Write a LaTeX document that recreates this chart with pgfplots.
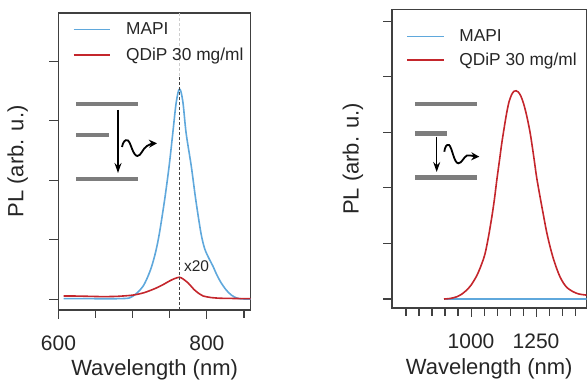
\documentclass[border=0pt]{standalone}
\usepackage{pgfplots}
\pgfplotsset{compat=1.18}
\usetikzlibrary{arrows.meta}
\usepackage{fontspec}
\setmainfont{Liberation Sans}
\definecolor{mblue}{RGB}{95,168,220}
\definecolor{qred}{RGB}{196,38,44}
\definecolor{axgray}{RGB}{64,64,64}
\definecolor{bargray}{RGB}{125,125,125}
\definecolor{lightdash}{RGB}{205,205,205}
\pgfplotsset{
  mystyle/.style={
    scale only axis,
    axis line style={axgray, line width=1.1pt},
    every tick/.style={axgray, line width=1.1pt},
    tick align=outside,
    major tick length=9pt, minor tick length=8pt,
    xtick pos=bottom, ytick pos=left,
    yticklabels={},
    /pgf/number format/assume math mode=true,
    /pgf/number format/1000 sep={},
    ticklabel style={font=\fontsize{21}{24}\selectfont, text=black!85},
    xticklabel style={yshift=-13pt},
    label style={font=\fontsize{22}{26}\selectfont, text=black!85},
    legend style={draw=none, fill=none, font=\fontsize{17.3}{20}\selectfont, text=black!85, inner sep=0pt,
       /tikz/every odd column/.append style={column sep=13pt}},
    legend cell align=left,
    legend image code/.code={\draw[##1, line width=1.6pt] (0pt,0pt) -- (36.6pt,0pt);},
  }
}
\begin{document}
\begin{tikzpicture}
% ---------------- left panel ----------------
\begin{axis}[mystyle,
  at={(58.5pt,70pt)}, anchor=south west,
  width=192.2pt, height=297pt,
  xmin=600, xmax=859, ymin=-0.18, ymax=4.81,
  xtick={600,800}, minor xtick={650,700,750,850},
  ytick={0,1,2,3,4},
  xlabel={Wavelength (nm)}, ylabel={PL (arb. u.)},
  xlabel style={at={(axis description cs:0.5,-0.2)}, anchor=center},
  ylabel style={at={(axis description cs:-0.2124,0.5)}, anchor=center},
  legend style={at={(axis description cs:0.074,0.975)}, anchor=north west, row sep=8pt},
]
\addplot[mblue, line width=1.6pt, smooth] coordinates {
(607,0.01) (640,0.01) (680,0.01) (695,0.02) (700,0.05) (707,0.12) (714,0.22)
(720,0.37) (725.5,0.55) (731,0.8) (736,1.11) (743,1.67) (749,2.23) (754,2.79)
(758,3.25) (761,3.47) (763,3.53) (765,3.49) (768,3.28) (772,2.79) (779,2.23)
(785,1.67) (792,1.11) (797,0.85) (803,0.68) (808,0.56) (813,0.42) (819,0.28)
(826,0.156) (833,0.07) (841,0.017) (850,0.005) (859,0.005)
};
\addlegendentry{MAPI}
\addplot[qred, line width=1.6pt, smooth] coordinates {
(607,0.055) (620,0.055) (640,0.05) (660,0.045) (680,0.05) (700,0.07) (715,0.11)
(730,0.18) (740,0.24) (750,0.31) (757,0.35) (763,0.37) (768,0.34) (775,0.27)
(783,0.16) (790,0.09) (795,0.055) (805,0.03) (817,0.018) (830,0.015) (845,0.012) (859,0.012)
};
\addlegendentry{QDiP 30 mg/ml}
\addplot[forget plot, axgray, line width=1.1pt, dash pattern=on 3pt off 2pt] coordinates {(763,-0.18) (763,3.75)};
\addplot[forget plot, lightdash, line width=1.1pt, dash pattern=on 3pt off 2pt] coordinates {(763,3.75) (763,4.81)};
\node[anchor=west, font=\fontsize{15.5}{18}\selectfont, text=black!85, inner sep=0pt] at (axis cs:769,0.55) {x20};
\end{axis}
% ---------------- right panel ----------------
\begin{axis}[mystyle,
  at={(392pt,72pt)}, anchor=south west,
  width=194.5pt, height=298.3pt,
  xmin=696, xmax=1444, ymin=-0.162, ymax=5.21,
  xtick={1000,1250}, minor xtick={750,800,...,950,1050,1100,1150,1200,1300,1350,1400},
  ytick={0,1,2,3,4,5},
  xlabel={Wavelength (nm)}, ylabel={PL (arb. u.)},
  xlabel style={at={(axis description cs:0.5,-0.205)}, anchor=center},
  ylabel style={at={(axis description cs:-0.2005,0.5)}, anchor=center},
  legend style={at={(axis description cs:0.072,0.94)}, anchor=north west, row sep=5.5pt},
]
\addplot[mblue, line width=1.6pt] coordinates {(896,0) (1444,0)};
\addlegendentry{MAPI}
\addplot[qred, line width=1.6pt, smooth] coordinates {
(896,0) (920,0.01) (945,0.04) (965,0.09) (983,0.16) (1000,0.25) (1022,0.42)
(1040,0.62) (1054,0.82) (1067,1.12) (1080,1.48) (1090,1.8) (1099,2.14) (1110,2.52)
(1118,2.8) (1128,3.1) (1137,3.35) (1146,3.55) (1156,3.68) (1165,3.74) (1173,3.75)
(1181,3.73) (1191,3.66) (1202,3.52) (1214,3.3) (1227,3.0) (1240,2.6) (1252,2.2)
(1265,1.85) (1278,1.52) (1291,1.2) (1304,0.94) (1317,0.72) (1330,0.54) (1342,0.4)
(1355,0.29) (1370,0.2) (1393,0.13) (1415,0.09) (1444,0.07)
};
\addlegendentry{QDiP 30 mg/ml}
\end{axis}
% ---------------- insets (energy diagrams) ----------------
\begin{scope}[bargray, line width=4.5pt]
\draw (76pt,276pt) -- (138pt,276pt);
\draw (76pt,245pt) -- (109pt,245pt);
\draw (76pt,201pt) -- (138pt,201pt);
\draw (415pt,276pt) -- (477pt,276pt);
\draw (415pt,246.7pt) -- (447pt,246.7pt);
\draw (415pt,202.7pt) -- (477pt,202.7pt);
\end{scope}
\begin{scope}[black, line width=1.4pt]
\draw[-{Stealth[length=10pt,width=7pt]}] (118pt,270pt) -- (118pt,207pt);
\draw[-{Stealth[length=10pt,width=7pt]}] (436.7pt,243.3pt) -- (436.7pt,208pt);
\draw[line width=1.8pt, -{Stealth[length=8pt,width=8pt]}] (122pt,233pt)
   .. controls (123pt,238pt) and (125pt,241pt) .. (128pt,239.5pt)
   .. controls (131pt,237pt) and (133pt,224pt) .. (137.5pt,224pt)
   .. controls (141pt,224pt) and (143pt,232pt) .. (147pt,234pt)
   .. controls (150pt,236pt) and (153pt,236.5pt) .. (157pt,236.7pt);
\draw[line width=1.8pt, -{Stealth[length=8pt,width=8pt]}] (444.3pt,228.3pt)
   .. controls (445pt,233pt) and (446.5pt,236pt) .. (449pt,235pt)
   .. controls (452pt,233pt) and (454pt,216.7pt) .. (458.3pt,216.7pt)
   .. controls (462pt,216.7pt) and (463.5pt,223pt) .. (467pt,224.5pt)
   .. controls (471pt,225pt) and (475pt,223.5pt) .. (479.3pt,223.3pt);
\end{scope}
\pgfresetboundingbox
\useasboundingbox (0pt,0pt) rectangle (587pt,380pt);
\end{tikzpicture}
\end{document}
